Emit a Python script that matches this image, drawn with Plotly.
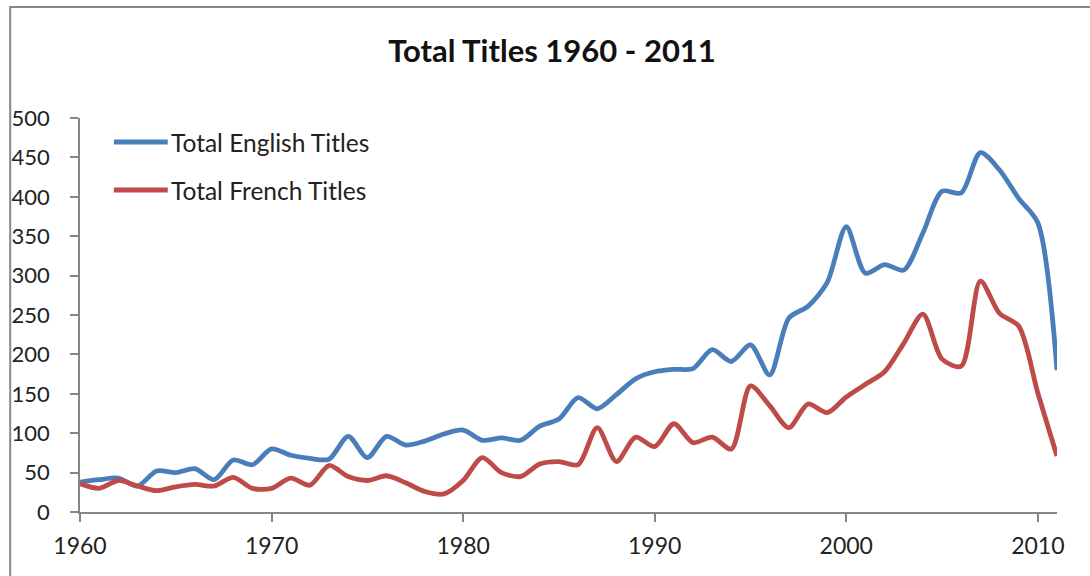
import plotly.graph_objects as go

years = list(range(1960, 2012))
english_titles = [38, 41, 43, 33, 52, 50, 55, 41, 66, 60,
                  80, 72, 68, 67, 96, 69, 96, 85, 90, 99,
                  104, 91, 94, 91, 109, 118, 145, 131, 149, 169,
                  178, 181, 182, 206, 191, 212, 174, 246, 261, 291,
                  362, 303, 314, 307, 354, 407, 405, 456, 434, 398,
                  367, 180]
french_titles = [36, 30, 40, 33, 27, 32, 35, 33, 44, 30,
                 30, 43, 34, 59, 45, 40, 46, 37, 26, 23,
                 40, 69, 50, 45, 61, 64, 60, 107, 64, 95,
                 83, 112, 88, 95, 80, 160, 135, 107, 137, 126,
                 146, 162, 178, 214, 251, 194, 185, 293, 252, 236,
                 151, 71]
series_names = ["Total English Titles", "Total French Titles"]
series_colors = ["#4A7EBB", "#BE4B48"]
title_text = "Total Titles 1960 - 2011"

W, H = 1090, 576
L, R, T, B = 77, 33, 118, 64
PW, PH = W - L - R, H - T - B

def px_x(px):
    return (px - L) / PW

def px_y(py):
    return (H - B - py) / PH

fig = go.Figure()
for name, vals, col in zip(series_names, [english_titles, french_titles], series_colors):
    fig.add_trace(go.Scatter(
        x=years, y=vals, name=name, mode="lines",
        line=dict(color=col, width=4.8, shape="spline", smoothing=0.8),
        showlegend=False, cliponaxis=False,
    ))

FONT = "Lato, 'Open Sans', sans-serif"
AX = "#868686"

shapes = []
annotations = []
# outer chart border
shapes.append(dict(type="rect", xref="paper", yref="paper",
                   x0=px_x(7), x1=px_x(1100), y0=px_y(600), y1=px_y(7),
                   line=dict(color="#878787", width=2), fillcolor="rgba(0,0,0,0)",
                   layer="below"))
# manual legend
for i, (name, col) in enumerate(zip(series_names, series_colors)):
    yy = px_y(142 + 48 * i)
    shapes.append(dict(type="line", xref="paper", yref="paper",
                       x0=px_x(111), x1=px_x(165), y0=yy, y1=yy,
                       line=dict(color=col, width=4.8)))
    annotations.append(dict(text=name, xref="paper", yref="paper",
                            x=px_x(166), y=yy, xanchor="left", yanchor="middle",
                            showarrow=False, font=dict(family=FONT, size=24.5, color="#222")))

fig.update_layout(
    width=W, height=H, autosize=False,
    margin=dict(l=L, r=R, t=T, b=B, pad=0),
    paper_bgcolor="white", plot_bgcolor="white",
    title=dict(text="<b>" + title_text + "</b>", x=552 / W, xanchor="center",
               y=1 - 51 / H, yanchor="middle",
               font=dict(family=FONT, size=31, color="#111")),
    shapes=shapes, annotations=annotations,
    xaxis=dict(range=[1960, 2011], tickmode="linear", tick0=1960, dtick=10,
               showgrid=False, zeroline=False, showline=True, linecolor=AX, linewidth=1.5,
               ticks="outside", ticklen=8, tickcolor=AX, tickwidth=1.5,
               ticklabelstandoff=5,
               tickfont=dict(family=FONT, size=23, color="#222")),
    yaxis=dict(range=[0, 500], tickmode="linear", tick0=0, dtick=50,
               showgrid=False, zeroline=False, showline=True, linecolor=AX, linewidth=1.5,
               ticks="outside", ticklen=8, tickcolor=AX, tickwidth=1.5,
               ticklabelstandoff=16,
               tickfont=dict(family=FONT, size=22, color="#222")),
)

fig.write_html("out.html", config={"displayModeBar": False},
               post_script="document.body.style.margin='0px';")
